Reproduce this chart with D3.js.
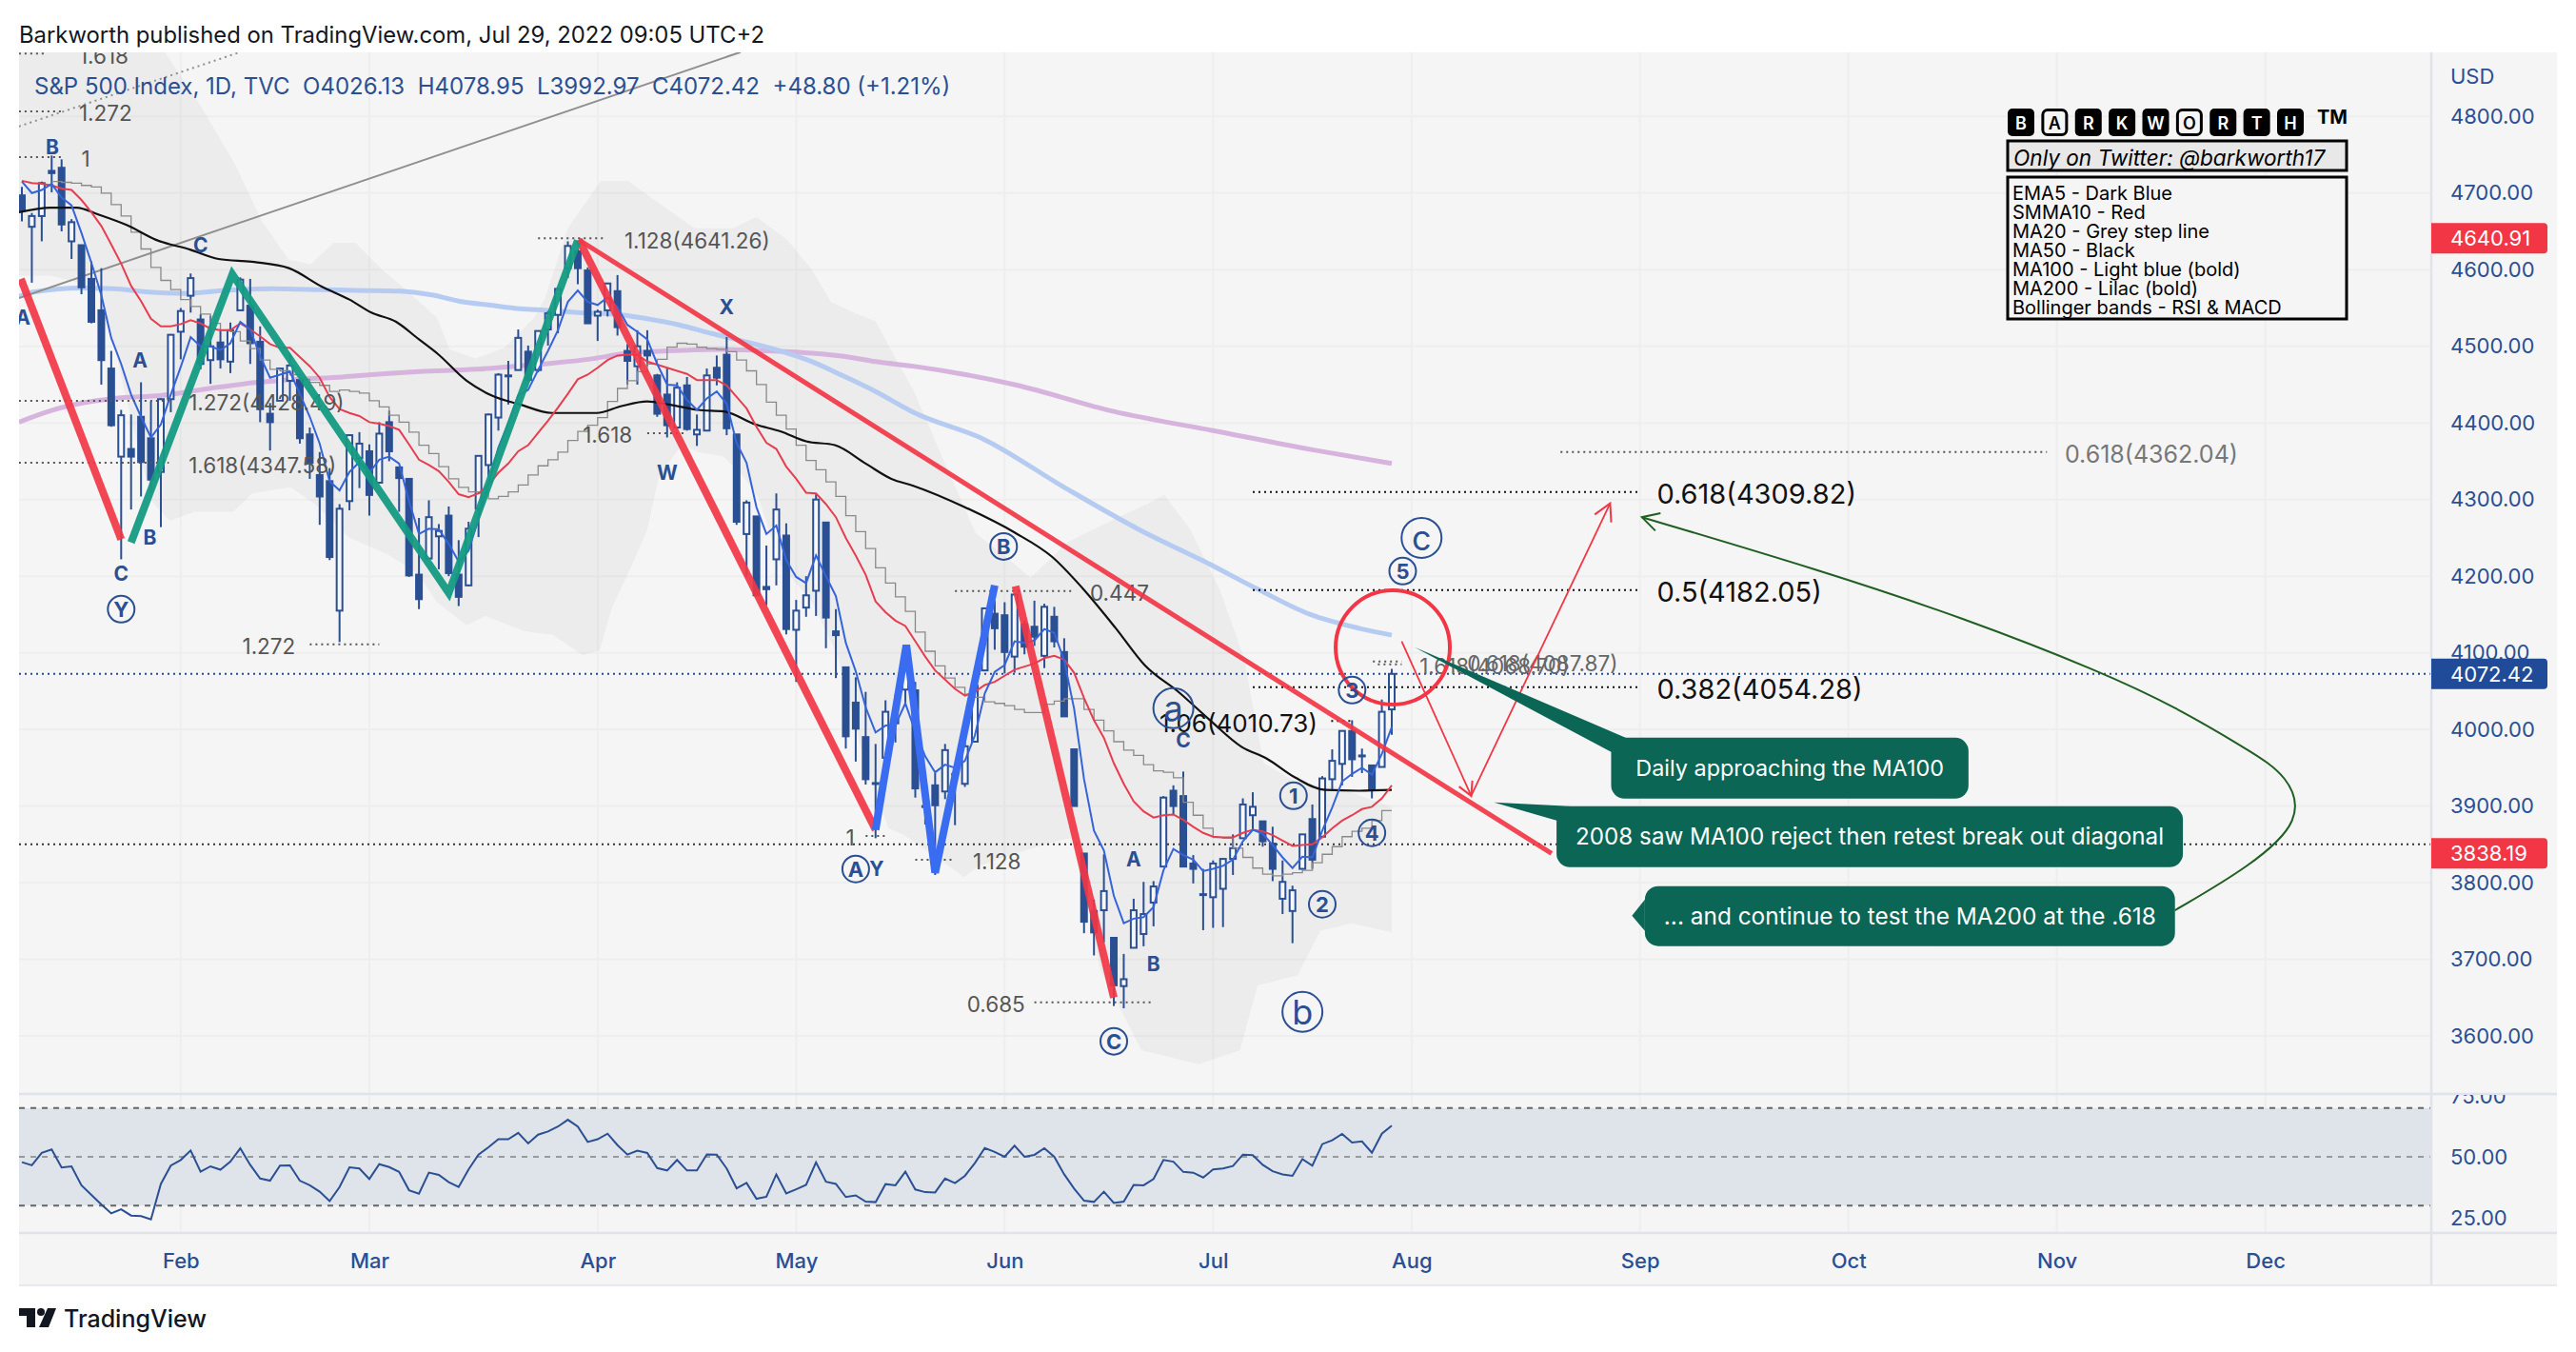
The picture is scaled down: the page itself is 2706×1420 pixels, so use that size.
<!DOCTYPE html>
<html><head><meta charset="utf-8">
<script src="https://cdn.jsdelivr.net/npm/d3@7"></script>
<style>html,body{margin:0;padding:0;background:#fff}svg{display:block}text{font-family:Inter,"Noto Sans",sans-serif}</style>
</head><body><svg id="c" width="2706" height="1420"></svg>
<script>
// ---- candles, one row per month: Jan 7 .. Jul 28 2022 ----
const opens=[4697,4656,4670,4729,4733,4637,4632,4588,4547,4471,4356,4366,4408,4380,4336,4431,
4519,4566,4535,4482,4505,4480,4547,4553,4506,4412,4429,4455,4456,4385,4332,4324,4155,4298,4354,
4363,4322,4401,4342,4327,4202,4223,4252,4279,4202,4188,4288,4345,4407,4462,4469,4493,4469,4522,4541,4602,4624,4599,
4540,4547,4572,4494,4474,4494,4462,4437,4394,4449,4385,4390,4472,4489,4385,4255,4278,4186,4222,4253,
4130,4159,4181,4270,4128,4081,4035,3990,3930,3963,4013,4052,4051,3899,3927,3919,3942,3929,3984,4077,4151,
4149,4095,4137,4134,4096,4147,4101,3974,3838,3763,3764,3728,3665,3715,3733,3774,3821,3920,3913,3825,3785,
3781,3792,3831,3858,3888,3880,3851,3779,3763,3818,3883,3860,3935,3955,3998,3965,3953,3951,4026.13];
const highs=[4708,4674,4715,4749,4744,4666,4632,4611,4602,4494,4417,4411,4453,4428,4432,4516,
4550,4595,4542,4540,4521,4531,4590,4588,4526,4426,4472,4490,4456,4394,4362,4341,4294,4385,4388,
4372,4401,4416,4342,4327,4276,4299,4268,4291,4247,4271,4358,4412,4465,4481,4522,4501,4520,4546,4575,4637,4627,4603,
4548,4583,4593,4503,4521,4521,4464,4471,4453,4460,4411,4471,4488,4512,4385,4299,4278,4240,4308,4269,
4169,4200,4307,4270,4157,4081,4068,4049,3981,4038,4046,4090,4062,3945,3943,3981,3955,3999,4075,4158,4168,
4166,4177,4142,4168,4164,4160,4119,3974,3838,3778,3837,3728,3707,3779,3801,3802,3913,3927,3945,3836,3818,
3829,3832,3863,3910,3918,3880,3873,3829,3796,3863,3902,3939,3974,3999,4012,3975,3953,4039,4078.95];
const lows=[4663,4583,4637,4701,4650,4614,4568,4530,4450,4395,4222,4287,4304,4309,4264,4414,
4483,4544,4470,4451,4471,4465,4547,4477,4401,4364,4429,4429,4373,4327,4267,4221,4114,4286,4315,
4279,4322,4350,4284,4199,4157,4223,4209,4200,4161,4187,4251,4329,4390,4424,4469,4455,4466,4501,4517,4589,4581,4530,
4507,4539,4514,4450,4450,4474,4408,4381,4392,4390,4370,4390,4449,4384,4267,4200,4175,4162,4188,4124,
4062,4147,4148,4106,4067,3975,3958,3928,3858,3963,3983,4033,3911,3876,3810,3909,3875,3925,3984,4077,4104,
4073,4074,4098,4109,4080,4107,4017,3900,3734,3705,3722,3639,3636,3715,3717,3743,3821,3889,3820,3799,3738,
3741,3742,3810,3858,3869,3847,3802,3759,3721,3817,3818,3860,3922,3927,3938,3943,3910,3951,3992.97];
const closes=[4677,4670,4713,4726,4659,4662,4577,4532,4482,4397,4410,4356,4349,4326,4431,4515,
4546,4589,4477,4500,4483,4521,4587,4504,4418,4401,4471,4475,4380,4348,4304,4225,4288,4384,4373,
4306,4386,4363,4328,4201,4170,4277,4259,4204,4173,4262,4357,4411,4463,4461,4511,4456,4520,4543,4575,4631,4602,4530,
4545,4582,4525,4481,4500,4488,4412,4397,4446,4392,4391,4462,4459,4393,4271,4296,4175,4183,4287,4131,
4155,4175,4300,4146,4123,3991,4001,3935,3930,4023,4008,4088,3923,3900,3901,3973,3941,3978,4057,4158,4132,
4101,4176,4108,4121,4160,4115,4017,3900,3749,3735,3789,3666,3674,3764,3759,3795,3911,3900,3821,3818,3785,
3825,3831,3845,3902,3899,3854,3818,3801,3790,3863,3830,3936,3959,3998,3961,3966,3921,4023,4072.42];
// ---- moving averages read per bar ----
const ema5=[4715,4700,4704,4712,4694,4684,4648,4609,4567,4511,4477,4437,4408,4381,4398,4437,
4473,4512,4500,4500,4495,4504,4532,4522,4487,4459,4463,4467,4438,4408,4373,4324,4312,4336,4349,
4335,4352,4356,4347,4298,4255,4262,4261,4242,4219,4233,4275,4320,4368,4399,4436,4443,4469,4494,4521,4558,4573,4558,
4554,4564,4551,4528,4519,4509,4477,4450,4449,4430,4417,4432,4441,4425,4374,4348,4290,4255,4266,4221,
4199,4191,4227,4200,4174,4113,4076,4029,3996,4005,4006,4034,3997,3965,3944,3954,3950,3959,3992,4047,4075,
4084,4115,4113,4116,4131,4126,4090,4027,3935,3868,3842,3783,3747,3753,3755,3768,3816,3844,3836,3830,3815,
3818,3822,3830,3854,3869,3864,3849,3833,3819,3834,3833,3868,3898,3932,3942,3950,3941,3968,4003];
const smma10=[4716,4713,4712,4710,4706,4704,4691,4675,4657,4633,4608,4579,4559,4536,4526,4526,
4529,4534,4530,4523,4521,4521,4530,4522,4513,4503,4498,4498,4486,4474,4459,4434,4418,4413,4409,
4401,4399,4396,4391,4372,4352,4345,4337,4323,4307,4303,4308,4319,4335,4347,4363,4371,4387,4403,4420,4438,4457,4463,
4472,4482,4488,4489,4489,4480,4476,4472,4468,4464,4456,4456,4456,4449,4434,4419,4395,4374,4366,4343,
4327,4309,4308,4294,4277,4250,4227,4202,4167,4153,4142,4135,4115,4095,4077,4065,4053,4044,4049,4058,4062,
4070,4078,4082,4086,4093,4096,4091,4074,4041,4012,3989,3956,3929,3906,3893,3885,3888,3889,3882,3873,3865,
3860,3859,3859,3865,3869,3867,3862,3855,3848,3849,3850,3859,3871,3881,3888,3896,3899,3910,3927];
const ma20Start=3;
const ma20=[4715,4714,4713,4710,4708,4700,4685,4670,4649,4627,4603,4586,4574,
4561,4552,4542,4530,4521,4519,4507,4497,4482,4470,4468,4463,4457,4453,4449,4441,4443,4441,4439,
4429,4421,4410,4401,4388,4371,4360,4343,4327,4316,4310,4308,4301,4304,4310,4319,4332,4344,4352,4362,4377,4389,4397,
4407,4428,4445,4455,4467,4477,4483,4499,4504,4503,4499,4497,4496,4493,4482,4468,4450,4427,4410,4392,4371,4351,4339,4323,
4304,4279,4258,4236,4211,4191,4173,4154,4127,4102,4083,4067,4055,4046,4042,4036,4034,4031,4026,4022,4022,
4033,4037,4040,4040,4026,4012,3998,3984,3973,3966,3954,3946,3944,3937,3905,3888,3871,3859,3858,3845,3833,
3819,3811,3809,3811,3813,3816,3826,3837,3847,3860,3867,3871,3881,3894,3894];
const ma50Bars=[-0.3,2.9,5.5,7.7,10.6,13.5,17,19.8,23.4,26.9,30.2,33,35.2,37.7,40,41.9,44.8,47.3,50.2,53.4,57.9,60.4,63,65.2,68.1,70.7,73.9,76.4,79,81.9,85,87.6,89.8,95,100,103.8,106.8,110.2,113.1,116.6,119.6,122.9,125.4,128.3,131.3,134.7,138];
const ma50Vals=[4675,4681,4681,4672,4658,4639,4626,4614,4610,4602,4578,4561,4544,4532,4509,4490,4455,4436,4424,4413,4413,4422,4428,4424,4417,4415,4398,4389,4376,4371,4347,4327,4318,4290,4257,4225,4185,4132,4084,4048,4013,3977,3962,3937,3921,3920,3921];
const ma100Bars=[-0.3,1.3,6.1,9.3,12.5,16.3,20.5,25.3,30,33.6,38,41.3,44.4,47,50.2,52.8,56,60.4,63,66.2,69.4,73.2,76.4,79.6,82.8,86,89.8,97,105,113.1,119,124.5,129.8,134.7,138];
const ma100Vals=[4565,4571,4576,4575,4571,4569,4573,4575,4574,4573,4572,4567,4558,4554,4549,4547,4544,4541,4536,4528,4517,4505,4494,4480,4461,4441,4414,4378,4316,4257,4220,4183,4150,4132,4123];
const ma200Bars=[-0.3,2.9,6.1,9.3,14.1,18.9,23.7,27.8,32.3,35.2,40,45.7,49.6,53.4,57.6,60.4,65,70,75.1,79.6,82.8,86,89.8,100,110,120,130,138];
const ma200Vals=[4401,4416,4426,4432,4436,4445,4453,4457,4460,4463,4467,4470,4474,4478,4484,4490,4494,4496,4494,4491,4487,4480,4474,4450,4415,4390,4365,4347];
// ---- Bollinger band edges ----
const upperBars=[-0.3,14.3,18.1,21.5,24.2,26.9,29.1,31.4,33.6,36.3,38.5,41.8,43.1,45.7,48.6,51.5,52.7,55,58.3,61.1,63.3,67.8,71.6,74,77.1,79.6,81.5,83.8,86,88.2,89.8,92.7,96.1,99.7,101.6,103,105.4,110.3,113.6,115.1,117.7,120.7,123.1,125.1,128.6,132.4,138];
const upperVals=[4902,4886,4812,4737,4663,4613,4607,4635,4635,4600,4576,4538,4496,4484,4498,4536,4563,4654,4716,4716,4695,4654,4654,4669,4639,4600,4558,4544,4533,4480,4443,4356,4256,4219,4198,4215,4245,4276,4296,4306,4261,4182,4094,3956,3930,3925,3899];
const lowerBars=[-0.3,2.9,5.8,8.1,8.8,10.3,11.7,13.1,14.9,17.4,21.3,23.2,27.1,29.6,33,36.9,39.9,41.8,44.8,46.7,50.6,53.5,56.5,58.2,59.4,61.4,63,64.2,66.5,68.1,70.7,72.6,74.2,76.4,79.6,82.2,84.6,87.3,88.9,93,94.9,96.3,99.1,101.6,104.5,106.1,108.6,112.8,118.6,122.7,124.5,128.5,130.8,133.9,138];
const lowerVals=[4592,4592,4583,4567,4530,4443,4368,4297,4272,4284,4284,4308,4316,4293,4250,4228,4203,4166,4136,4148,4128,4123,4097,4103,4157,4213,4260,4331,4372,4362,4356,4331,4302,4215,4166,4095,3971,3871,3862,3825,3807,3821,3834,3844,3855,3859,3687,3581,3563,3581,3666,3679,3737,3747,3735];
// ---- RSI, one row per month ----
const rsi=[47.8,46.5,51.6,53,45.6,46.1,38.3,34.4,30.5,26.8,28.5,25.9,25.7,24.3,38.9,46.4,
48.7,52.6,43.9,46.1,44.7,48,53.5,46.7,41.1,40.2,46.4,46.5,40.2,38.3,35.7,31.8,37.6,45.7,45.2,
40.9,47,45.8,43.8,36.3,34.9,43.5,42.6,39.6,37.6,44.8,50.9,53.9,57.2,57.2,59.8,55.5,59.1,60.4,62.4,65.2,62.4,56.1,
57.2,59.5,54.8,50.9,52.5,51.6,45.4,44.4,48.7,44.4,44.4,51,50.9,45.2,37.1,39.3,32.8,33.6,42.8,35,
36.7,38.5,47.7,39.8,38.9,33.5,34.2,31.6,31.4,38.8,38.3,43.9,36.6,35.5,35.4,41.1,39.2,42.2,47.4,53.6,52,
50,54.6,50,50.8,53.5,50,42.8,37,32,31.5,35.7,31.1,31.6,38.5,38.3,40.9,48.7,48,43.8,43.5,41.5,
44.8,45.2,46.2,50.9,50.7,46.7,44.1,42.8,42.2,49.1,46.4,55.2,56.8,59.4,55.9,56.3,51.7,59.5,62.8];
// ---- axes ----
const priceTicks=[3600,3700,3800,3900,4000,4100,4200,4300,4400,4500,4600,4700,4800];
const rsiTicks=[25,50,75];
const monthLabels=["Feb","Mar","Apr","May","Jun","Jul","Aug","Sep","Oct","Nov","Dec"];
const monthBars=[16,35,58,78,99,120,140,163,184,205,226];
const priceTags=[["4640.91",4640.91,"#f23645"],["4072.42",4072.42,"#1f4b99"],["3838.19",3838.19,"#f23645"]];
// ---- drawings [bar, price] ----
const redThick=[[[-0.1,4588],[10,4248]],[[56.1,4639],[86,3869]],[[100.1,4187],[110,3650]]];
const greenThick=[[11,4244],[21.2,4594],[43,4178],[56,4638]];
const blueThick=[[86,3869],[89.1,4110],[92,3813],[98,4188]];
const trendRed=[[56.1,4639],[154.1,3838]];
const greyLine=[[-0.3,4563],[72.4,4884]];
const greyDotted=[[-0.3,4787],[22,4884]];
const thinRed=[[139,4115],[146,3913.4],[160,4295]];
const greenCurve=[[216.9,3764],[224.5,3821.5],[229.8,3881],[228.4,3939.5],[224.2,3974],[217,4029],[209.5,4075],[195.5,4146],[181.1,4208],[163.2,4277]];
const circleMark=[138.1,4107];
// text, dots from, dots to, price, text bar, colour, size
const fibs=[
["1.618",-0.3,2.2,4882,5.75,"#555",22.5],["1.272",-0.3,4,4806.6,5.75,"#555",22.5],["1",-0.3,4,4747,6,"#555",22.5],
["1.272(4428.49)",-0.3,14.8,4428.9,16.8,"#555",22.5],["1.618(4347.58)",-0.3,14.8,4348,16.8,"#555",22.5],
["1.272",29,36,4111,22.2,"#555",22.5],["1.128(4641.26)",52,58.9,4641,60.7,"#555",22.5],["1.618",63,66.8,4386.7,56.5,"#555",22.5],
["0.447",94,105.9,4180.5,107.6,"#555",22.5],["1",85,87,3861,83,"#555",22.5],["1.128",90,93.7,3830,95.8,"#555",22.5],
["0.685",102,113.9,3643.8,95.2,"#555",22.5],["1.06(4010.73)",131.9,134,4011,114.6,"#111",26],
["0.382(4054.28)",124,162.8,4055,164.7,"#111",29],["0.5(4182.05)",124,162.8,4182,164.7,"#111",29],["0.618(4309.82)",124,162.8,4309.7,164.7,"#111",29],
["0.618(4362.04)",155,204,4362,205.8,"#777",25],
["1.618(4068.70)",136.6,139,4085,140.8,"#666",22.5],["0.618(4087.87)",136.1,139,4088.6,145.6,"#666",22.5]];
const plainWave=[["B",3.07,4760.6],["A",0.1,4538],["C",18,4632.6],["A",11.9,4482],["B",12.9,4251],["C",10,4203],["X",71,4550.7],["W",65,4334.5],["Y",86.1,3817.8],["C",117,3985.5],["A",112,3831],["B",114,3693.5]];
const circledWave=[["Y",10,4156.9,14],["B",98.9,4238.8,14],["A",84,3817.8,14],["C",110,3593,14],["a",116,4027.7,21],["1",128.1,3913.4,14],["2",131,3771.8,14],["3",134,4051.3,14],["4",136,3865,14],["5",139.1,4206.6,14],["c",141,4250,21],["b",129,3631.4,21]];
// text, barL, barR, priceTop, priceBottom, tail points, size
const callouts=[
["Daily approaching the MA100",160.1,196.1,3989.2,3909.7,[[140.3,4107.2],[161.6,3989],[160.1,3970.5]],23.4],
["2008 saw MA100 reject then retest break out diagonal",154.6,217.7,3899.7,3820.2,[[148.3,3904.7],[155.9,3899.7],[154.6,3881]],24.2],
["... and continue to test the MA200 at the .618",163.5,216.9,3795.4,3717.2,[[162.2,3756.9],[163.5,3778],[163.5,3737]],24.4]];
const levels=[[4072.42,"#1f4b99"],[3850,"#333"]];
const brandLetters=["B","A","R","K","W","O","R","T","H"];
const brandHollow=[1,5];
const infoLines=["EMA5 - Dark Blue","SMMA10 - Red","MA20 - Grey step line","MA50 - Black","MA100 - Light blue (bold)","MA200 - Lilac (bold)","Bollinger bands - RSI & MACD"];

const L=20,R=2686,AX=2554,T=55,B=1350,P1=1149,P2=1295;
const BLUE="#2a4f93",RED="#f23645";
const x=d3.scaleLinear().domain([0,138]).range([23,1462]);
const y=d3.scaleLinear().domain([3600,4800]).range([1088,122.3]);
const yR=d3.scaleLinear().domain([25,75]).range([1279,1151]);
const svg=d3.select("#c");
const defs=svg.append("defs");
defs.append("clipPath").attr("id","main").append("rect").attr("x",L).attr("y",T).attr("width",AX-L).attr("height",P1-T);
defs.append("clipPath").attr("id","rsiAx").append("rect").attr("x",AX).attr("y",P1+1).attr("width",R-AX).attr("height",P2-P1);
svg.append("rect").attr("x",L).attr("y",T).attr("width",R-L).attr("height",B-T).attr("fill","#f5f5f5");
svg.append("text").attr("x",20).attr("y",36).attr("dominant-baseline","central").attr("font-size",23.85).attr("fill","#131722").text("Barkworth published on TradingView.com, Jul 29, 2022 09:05 UTC+2");
// grid
const grid=svg.append("g");
grid.selectAll(".h").data(priceTicks).join("line").attr("x1",L).attr("x2",AX).attr("y1",d=>y(d)).attr("y2",d=>y(d)).attr("stroke","#eeeeee").attr("stroke-width",2);
grid.selectAll(".v").data(monthBars).join("line").attr("x1",d=>x(d)).attr("x2",d=>x(d)).attr("y1",T).attr("y2",P2).attr("stroke","#eeeeee").attr("stroke-width",2);
// main plot
const g=svg.append("g").attr("clip-path","url(#main)");
const pt=d3.line().x(d=>x(d[0])).y(d=>y(d[1]));
const zip=(a,b)=>a.map((v,i)=>[v,b[i]]);
const band=zip(upperBars,upperVals).concat(zip(lowerBars,lowerVals).reverse());
g.append("path").attr("d",pt(band)+"Z").attr("fill","rgba(0,0,0,0.035)");
const smooth=d3.line().x(d=>x(d[0])).y(d=>y(d[1])).curve(d3.curveMonotoneX);
g.append("path").attr("d",smooth(zip(ma200Bars,ma200Vals))).attr("fill","none").attr("stroke","#d6b4de").attr("stroke-width",5);
g.append("path").attr("d",smooth(zip(ma100Bars,ma100Vals))).attr("fill","none").attr("stroke","#b6cbf1").attr("stroke-width",5);
[[greyLine,"none"],[greyDotted,"2,4"]].forEach(([d,da])=>g.append("path").attr("d",pt(d)).attr("fill","none").attr("stroke","#8f8f8f").attr("stroke-width",2).attr("stroke-dasharray",da));
levels.forEach(([p,c])=>g.append("line").attr("x1",L).attr("x2",AX).attr("y1",y(p)).attr("y2",y(p)).attr("stroke",c).attr("stroke-width",2).attr("stroke-dasharray","2,4"));
// candles
const idx=d3.range(closes.length);
g.selectAll(".w").data(idx).join("line").attr("x1",i=>x(i)).attr("x2",i=>x(i)).attr("y1",i=>y(highs[i])).attr("y2",i=>y(lows[i])).attr("stroke",BLUE).attr("stroke-width",2);
g.selectAll(".b").data(idx).join("rect").attr("x",i=>x(i)-3).attr("width",6)
 .attr("y",i=>y(Math.max(opens[i],closes[i]))).attr("height",i=>Math.max(1,Math.abs(y(opens[i])-y(closes[i]))))
 .attr("fill",i=>closes[i]>=opens[i]?"#f6f8fc":BLUE).attr("stroke",BLUE).attr("stroke-width",2);
// averages
const step=d3.line().x(d=>x(d[0])).y(d=>y(d[1])).curve(d3.curveStepAfter);
g.append("path").attr("d",step(ma20.map((v,i)=>[i+ma20Start,v]))).attr("fill","none").attr("stroke","#8a8a8a").attr("stroke-width",1.3);
g.append("path").attr("d",smooth(zip(ma50Bars,ma50Vals))).attr("fill","none").attr("stroke","#111").attr("stroke-width",2.2);
g.append("path").attr("d",pt(smma10.map((v,i)=>[i,v]))).attr("fill","none").attr("stroke","#e63e50").attr("stroke-width",2);
g.append("path").attr("d",pt(ema5.map((v,i)=>[i,v]))).attr("fill","none").attr("stroke","#3563d8").attr("stroke-width",2);
// fib labels
fibs.forEach(([t,a,b,p,tb,c,s])=>{
 g.append("line").attr("x1",x(a)).attr("x2",x(b)).attr("y1",y(p)).attr("y2",y(p)).attr("stroke",s>=26?"#111":"#555").attr("stroke-width",2).attr("stroke-dasharray","2,4");
 g.append("text").attr("x",x(tb)).attr("y",y(p)+2).attr("dominant-baseline","central").attr("font-size",s).attr("fill",c).text(t);
});
// thick wave lines
redThick.forEach(d=>g.append("path").attr("d",pt(d)).attr("fill","none").attr("stroke",RED).attr("stroke-opacity",.92).attr("stroke-width",8));
g.append("path").attr("d",pt(greenThick)).attr("fill","none").attr("stroke","#149b83").attr("stroke-opacity",.95).attr("stroke-width",8);
g.append("path").attr("d",pt(blueThick)).attr("fill","none").attr("stroke","#3a6cf2").attr("stroke-width",8);
g.append("path").attr("d",pt(trendRed)).attr("fill","none").attr("stroke",RED).attr("stroke-opacity",.92).attr("stroke-width",5);
g.append("circle").attr("cx",x(circleMark[0])).attr("cy",y(circleMark[1])).attr("r",60).attr("fill","none").attr("stroke",RED).attr("stroke-width",4);
// thin arrows
g.append("path").attr("d",pt(thinRed)).attr("fill","none").attr("stroke",RED).attr("stroke-width",1.8);
function head(a,b,c,len){const [x1,y1]=[x(a[0]),y(a[1])],[x2,y2]=[x(b[0]),y(b[1])];const t=Math.atan2(y1-y2,x1-x2);
 const m=[t-.5,t+.5].map(v=>[x2+len*Math.cos(v),y2+len*Math.sin(v)]);
 g.append("path").attr("d",`M${m[0]}L${x2},${y2}L${m[1]}`).attr("fill","none").attr("stroke",c).attr("stroke-width",2);}
head(thinRed[0],thinRed[1],RED,16);head(thinRed[1],thinRed[2],RED,20);
g.append("path").attr("d",d3.line().x(d=>x(d[0])).y(d=>y(d[1])).curve(d3.curveBasis)(greenCurve)).attr("fill","none").attr("stroke","#1f5f22").attr("stroke-width",2);
head(greenCurve[8],greenCurve[9],"#1f5f22",20);
// callouts
callouts.forEach(([t,a,b,pT,pB,tail,fs])=>{
 g.append("path").attr("d",pt(tail)+"Z").attr("fill","#0b6655");
 g.append("rect").attr("x",x(a)).attr("y",y(pT)).attr("width",x(b)-x(a)).attr("height",y(pB)-y(pT)).attr("rx",14).attr("fill","#0b6655");
 g.append("text").attr("x",(x(a)+x(b))/2).attr("y",(y(pT)+y(pB))/2).attr("text-anchor","middle").attr("dominant-baseline","central").attr("font-size",fs).attr("fill","#fff").text(t);
});
// wave labels
plainWave.forEach(([t,b,p])=>g.append("text").attr("x",x(b)).attr("y",y(p)).attr("text-anchor","middle").attr("dominant-baseline","central").attr("font-size",21).attr("font-weight",700).attr("fill",BLUE).text(t));
circledWave.forEach(([t,b,p,r])=>{
 g.append("circle").attr("cx",x(b)).attr("cy",y(p)).attr("r",r).attr("fill","none").attr("stroke",BLUE).attr("stroke-width",2);
 g.append("text").attr("x",x(b)).attr("y",y(p)).attr("text-anchor","middle").attr("dominant-baseline","central").attr("font-size",r>20?36:22).attr("font-weight",r>20?400:700).attr("fill",BLUE).text(t);
});
// legend text
svg.append("text").attr("x",36).attr("y",90).attr("dominant-baseline","central").attr("font-size",24).attr("fill",BLUE).attr("xml:space","preserve").text("S&P 500 Index, 1D, TVC  O4026.13  H4078.95  L3992.97  C4072.42  +48.80 (+1.21%)");
// RSI panel
const rp=svg.append("g");
rp.append("rect").attr("x",L).attr("y",yR(70)).attr("width",AX-L).attr("height",yR(30)-yR(70)).attr("fill","#dfe4ea");
[[70,"#666"],[50,"#9a9a9a"],[30,"#666"]].forEach(([v,c])=>rp.append("line").attr("x1",L).attr("x2",AX).attr("y1",yR(v)).attr("y2",yR(v)).attr("stroke",c).attr("stroke-width",2).attr("stroke-dasharray","6,6"));
rp.append("path").attr("d",d3.line().x((d,i)=>x(i)).y(d=>yR(d))(rsi)).attr("fill","none").attr("stroke",BLUE).attr("stroke-width",2);
// separators
[[L,R,P1,P1],[L,R,P2,P2],[AX,AX,T,B]].forEach(([a,b,c,d])=>svg.append("line").attr("x1",a).attr("x2",b).attr("y1",c).attr("y2",d).attr("stroke","#e1e3ea").attr("stroke-width",2.5));
svg.append("line").attr("x1",L).attr("x2",R).attr("y1",B).attr("y2",B).attr("stroke","#e8e9ee").attr("stroke-width",2);
// axes
function styleAxis(a){a.select(".domain").remove();a.selectAll("text").attr("fill",BLUE).attr("font-size",22).attr("font-family",'Inter,"Noto Sans",sans-serif');a.selectAll(".tick line").remove();}
svg.append("g").attr("transform",`translate(${AX+20},0)`).call(d3.axisRight(y).tickValues(priceTicks).tickFormat(d3.format(".2f")).tickSize(0).tickPadding(0)).call(styleAxis);
svg.append("g").attr("clip-path","url(#rsiAx)").append("g").attr("transform",`translate(${AX+20},0)`).call(d3.axisRight(yR).tickValues(rsiTicks).tickFormat(d3.format(".2f")).tickSize(0).tickPadding(0)).call(styleAxis);
svg.append("g").attr("transform",`translate(0,1316)`).call(d3.axisBottom(x).tickValues(monthBars).tickFormat((d,i)=>monthLabels[i]).tickSize(0).tickPadding(0)).call(styleAxis).selectAll("text").attr("font-weight",500);
svg.append("text").attr("x",AX+20).attr("y",80).attr("dominant-baseline","central").attr("font-size",22).attr("fill",BLUE).text("USD");
priceTags.forEach(([t,p,c])=>{
 svg.append("path").attr("d",`M${AX},${y(p)-16}H${AX+118}a4,4 0 0 1 4,4V${y(p)+12}a4,4 0 0 1 -4,4H${AX}Z`).attr("fill",c);
 svg.append("text").attr("x",AX+20).attr("y",y(p)).attr("dominant-baseline","central").attr("font-size",22).attr("fill","#fff").text(t);
});
// brand box
const bx=d3.scaleLinear().domain([0,8]).range([2109,2392]);
brandLetters.forEach((c,i)=>{const h=brandHollow.includes(i);
 svg.append("rect").attr("x",bx(i)+(h?1.5:0)).attr("y",h?115.5:114).attr("width",h?25:28).attr("height",h?26:29).attr("rx",5).attr("fill",h?"#f5f5f5":"#000").attr("stroke",h?"#000":"none").attr("stroke-width",3);
 svg.append("text").attr("x",bx(i)+14).attr("y",129).attr("text-anchor","middle").attr("dominant-baseline","central").attr("font-size",18).attr("font-weight",600).attr("fill",h?"#000":"#fff").text(c);
});
svg.append("text").attr("x",2434).attr("y",123).attr("dominant-baseline","central").attr("font-size",20).attr("font-weight",700).attr("fill","#000").text("TM");
svg.append("rect").attr("x",2109).attr("y",148).attr("width",356).attr("height",31).attr("fill","#e8e8e8").attr("stroke","#000").attr("stroke-width",3);
svg.append("text").attr("x",2115).attr("y",165).attr("dominant-baseline","central").attr("font-size",22.6).attr("font-style","italic").attr("fill","#000").text("Only on Twitter: @barkworth17");
svg.append("rect").attr("x",2109).attr("y",186).attr("width",356).attr("height",149).attr("fill","#f5f5f5").attr("stroke","#000").attr("stroke-width",3);
infoLines.forEach((t,i)=>svg.append("text").attr("x",2114).attr("y",203+20*i).attr("dominant-baseline","central").attr("font-size",20).attr("fill","#000").text(t));
// footer logo
svg.append("path").attr("d","M20 1374H37V1394H28V1382H20ZM50 1374H59L51 1394H41Z").attr("fill","#131722");
svg.append("circle").attr("cx",43).attr("cy",1378).attr("r",4).attr("fill","#131722");
svg.append("text").attr("x",67).attr("y",1385).attr("dominant-baseline","central").attr("font-size",25).attr("font-weight",500).attr("fill","#131722").text("TradingView");
</script></body></html>
